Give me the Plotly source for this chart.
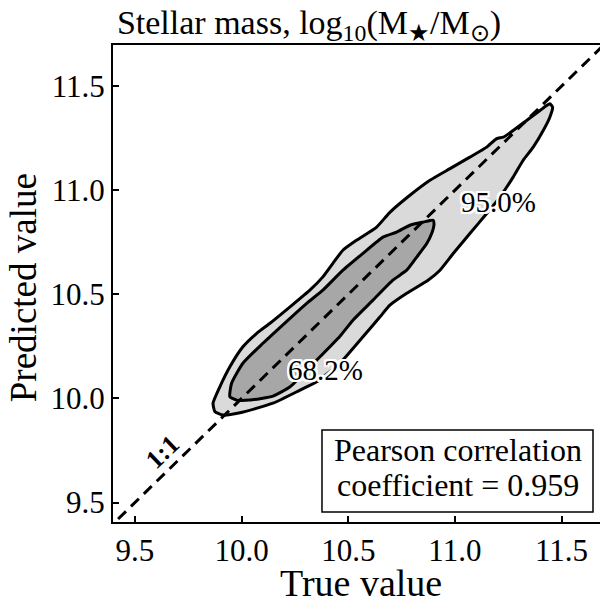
import plotly.graph_objects as go

# 95% contour outline (true, predicted)
outer_x = [9.875, 9.866, 9.898, 9.945, 10.006, 10.071, 10.133, 10.227, 10.320, 10.381,
           10.428, 10.475, 10.539, 10.633, 10.695, 10.789, 10.883, 10.977, 11.070, 11.149,
           11.196, 11.227, 11.273, 11.336, 11.399, 11.430, 11.445, 11.458, 11.445, 11.414,
           11.367, 11.320, 11.273, 11.211, 11.149, 11.070, 10.992, 10.930, 10.874, 10.774,
           10.695, 10.649, 10.569, 10.461, 10.352, 10.274, 10.147, 9.992, 9.913, 9.875]
outer_y = [9.936, 9.977, 10.056, 10.152, 10.248, 10.313, 10.361, 10.440, 10.520, 10.584,
           10.649, 10.712, 10.760, 10.823, 10.894, 10.976, 11.048, 11.104, 11.159, 11.207,
           11.248, 11.255, 11.287, 11.335, 11.383, 11.407, 11.416, 11.399, 11.351, 11.287,
           11.207, 11.144, 11.063, 10.967, 10.888, 10.792, 10.696, 10.616, 10.568, 10.505,
           10.448, 10.392, 10.296, 10.169, 10.080, 10.040, 9.977, 9.931, 9.920, 9.936]

# 68.2% contour outline
inner_x = [10.898, 10.902, 10.891, 10.868, 10.821, 10.774, 10.709, 10.616, 10.522, 10.461,
           10.352, 10.227, 10.147, 10.039, 9.977, 9.945, 9.953, 10.006, 10.100, 10.227,
           10.305, 10.381, 10.475, 10.569, 10.663, 10.727, 10.789, 10.852, 10.898]
inner_y = [10.856, 10.837, 10.792, 10.744, 10.679, 10.616, 10.568, 10.472, 10.376, 10.299,
           10.184, 10.056, 10.011, 9.992, 9.992, 10.008, 10.073, 10.169, 10.265, 10.385,
           10.457, 10.520, 10.616, 10.697, 10.775, 10.799, 10.832, 10.847, 10.856]

one_to_one = [9.3, 11.8]
tick_vals = [9.5, 10.0, 10.5, 11.0, 11.5]
tick_text = ["9.5", "10.0", "10.5", "11.0", "11.5"]
pearson_r = 0.959

FONT = "Liberation Serif, Times New Roman, serif"
halo = ("1px 1px 0 #fff, -1px -1px 0 #fff, 1px -1px 0 #fff, -1px 1px 0 #fff, "
        "2px 0 0 #fff, -2px 0 0 #fff, 0 2px 0 #fff, 0 -2px 0 #fff, "
        "2px 2px 0 #fff, -2px -2px 0 #fff, 2px -2px 0 #fff, -2px 2px 0 #fff")

fig = go.Figure()
fig.add_trace(go.Scatter(x=outer_x, y=outer_y, mode="lines", fill="toself", fillcolor="#dadada",
                         line=dict(color="black", width=3, shape="spline", smoothing=0.5),
                         hoverinfo="skip", showlegend=False))
fig.add_trace(go.Scatter(x=inner_x, y=inner_y, mode="lines", fill="toself", fillcolor="#a7a7a7",
                         line=dict(color="black", width=3, shape="spline", smoothing=0.5),
                         hoverinfo="skip", showlegend=False))
fig.add_trace(go.Scatter(x=one_to_one, y=one_to_one, mode="lines",
                         line=dict(color="black", width=3, dash="11px,7px"),
                         hoverinfo="skip", showlegend=False))

# contour level labels and the 1:1 tag
fig.add_annotation(x=11.202, y=10.942, text="95.0%", showarrow=False,
                   font=dict(family=FONT, size=29, color="black", shadow=halo))
fig.add_annotation(x=10.391, y=10.136, text="68.2%", showarrow=False,
                   font=dict(family=FONT, size=29, color="black", shadow=halo))
fig.add_annotation(x=9.627, y=9.742, text="<b>1:1</b>", showarrow=False, textangle=-44,
                   font=dict(family=FONT, size=26, color="black"))

# correlation box
fig.add_shape(type="rect", xref="paper", yref="paper", x0=0.4222, x1=0.9697, y0=0.0209, y1=0.1927,
              line=dict(color="black", width=1.5), fillcolor="white", layer="above")
fig.add_annotation(xref="paper", yref="paper", x=0.696, y=0.150, xanchor="center", yanchor="middle",
                   text="Pearson correlation", showarrow=False,
                   font=dict(family=FONT, size=32, color="black"))
fig.add_annotation(xref="paper", yref="paper", x=0.696, y=0.077, xanchor="center", yanchor="middle",
                   text=f"coefficient = {pearson_r}", showarrow=False,
                   font=dict(family=FONT, size=32, color="black"))

# axis titles
fig.add_annotation(xref="paper", yref="paper", x=0.5, y=-0.1277, xanchor="center", yanchor="middle",
                   text="True value", showarrow=False, font=dict(family=FONT, size=38, color="black"))
fig.add_annotation(xref="paper", yref="paper", x=-0.182, y=0.492, xanchor="center", yanchor="middle",
                   text="Predicted value", textangle=-90, showarrow=False,
                   font=dict(family=FONT, size=37, color="black"))

fig.update_layout(
    width=608, height=603,
    margin=dict(l=105, r=8, t=36.5, b=89),
    plot_bgcolor="white", paper_bgcolor="white",
    font=dict(family=FONT, size=31, color="black"),
    title=dict(text="Stellar mass, log<sub>10</sub>(M<sub>★</sub>/M<sub>⊙</sub>)",
               xref="container", yref="container", x=0.495, xanchor="center", y=0.997, yanchor="top",
               font=dict(family=FONT, size=34, color="black")),
    xaxis=dict(range=[9.397, 11.7177], tickvals=tick_vals, ticktext=tick_text,
               ticks="inside", ticklen=6, tickwidth=1.5, tickcolor="black",
               showline=True, linecolor="black", linewidth=2, mirror=True,
               showgrid=False, zeroline=False, automargin=False,
               tickfont=dict(family=FONT, size=31)),
    yaxis=dict(range=[9.4064, 11.6977], tickvals=tick_vals, ticktext=tick_text,
               ticks="inside", ticklen=6, tickwidth=1.5, tickcolor="black",
               showline=True, linecolor="black", linewidth=2, mirror=False,
               showgrid=False, zeroline=False, automargin=False,
               tickfont=dict(family=FONT, size=31)),
)

fig.write_html("out.html")
